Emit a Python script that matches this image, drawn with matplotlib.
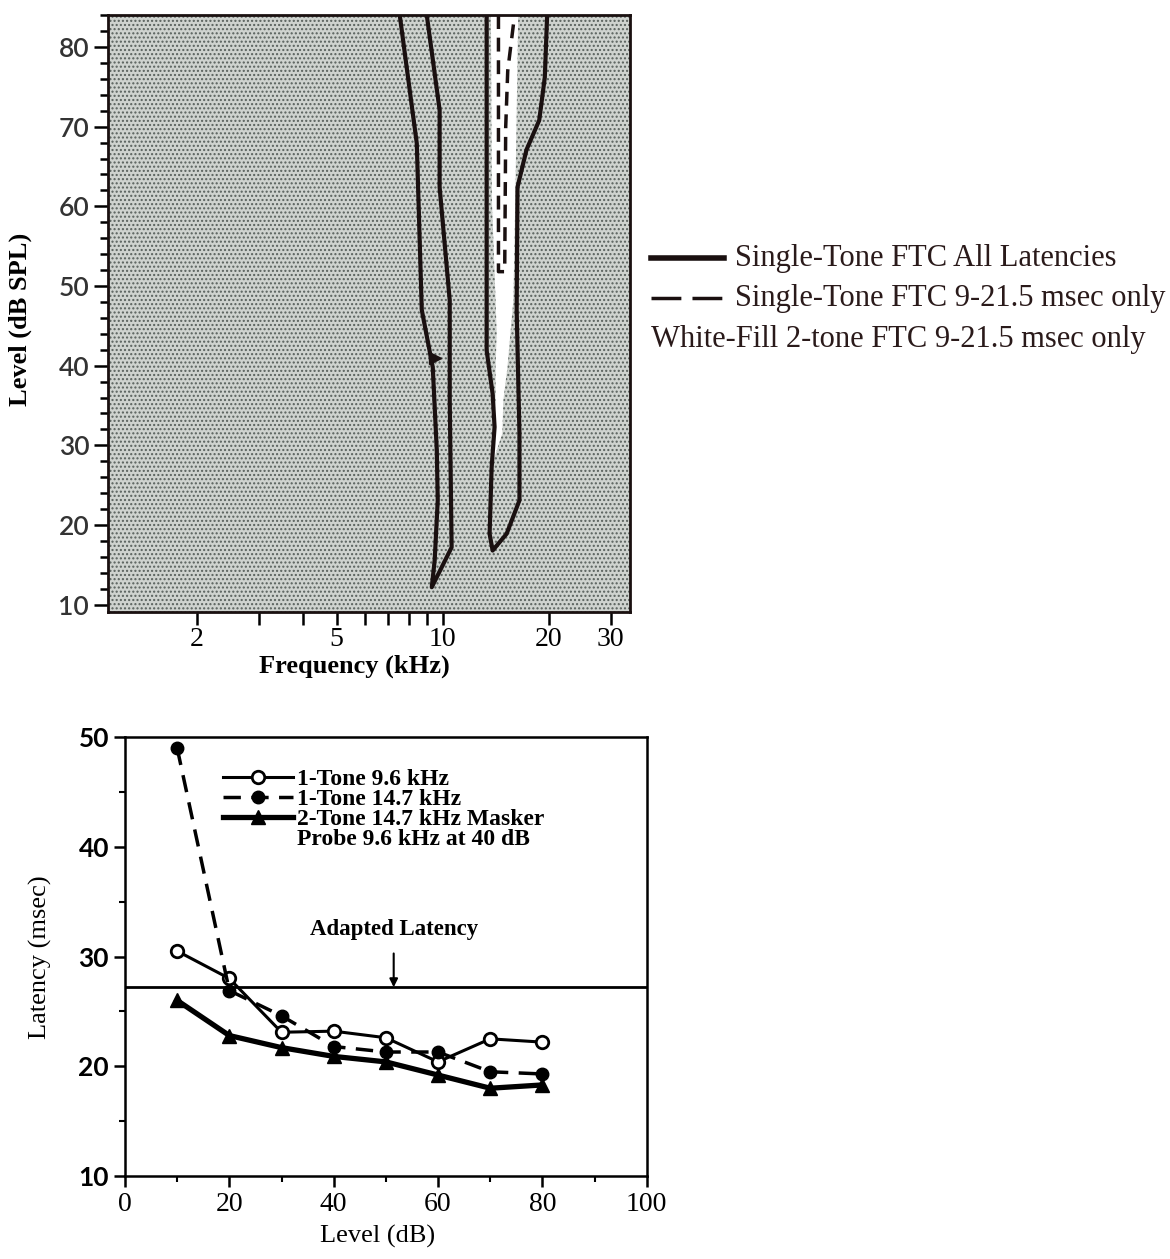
import matplotlib as mpl
mpl.rcParams['figure.dpi'] = 100

import numpy as np
import matplotlib.pyplot as plt
from matplotlib.patches import Rectangle
from matplotlib.lines import Line2D

SERIF = 'Liberation Serif'
SANS = 'Lato'

# --- top panel: frequency tuning curves (kHz, dB SPL) ---
ftc1_f = [7.55, 8.44, 8.72, 9.37, 9.62, 9.68, 9.49, 9.31, 10.6, 10.47, 10.47, 9.80, 9.80, 9.01]
ftc1_L = [84, 67.9, 47.0, 39.8, 29.4, 23.1, 15.6, 12.2, 17.2, 35.7, 48.2, 62.4, 72.1, 84]

ftc2_f = [13.33, 13.33, 13.33, 13.86, 14.04, 13.77, 13.59, 13.86, 15.19, 16.52, 16.52,
          16.22, 16.31, 17.3, 18.8, 19.5, 19.8]
ftc2_L = [84, 48.2, 41.9, 36.5, 32.3, 27.2, 18.9, 16.8, 18.9, 23.1, 31.5,
          47.0, 62.4, 67.1, 70.8, 76.2, 84]

dash_f = [14.4, 14.4, 15.0, 15.1, 15.3, 16.0]
dash_L = [84, 51.8, 51.8, 70, 77, 84]

white_f = [13.77, 13.86, 14.2, 14.3, 14.2, 14.2, 14.0, 13.77,
           14.7, 14.8, 15.2, 15.5, 15.8, 16.0, 16.31]
white_L = [84, 60.8, 48.2, 44.1, 39.8, 35.7, 31.5, 27.7,
           31.5, 35.7, 39.8, 44.1, 48.2, 60.8, 84]

probe_f, probe_L = 9.5, 41

# --- bottom panel: latency vs level ---
level = [10, 20, 30, 40, 50, 60, 70, 80]
lat_96 = [30.5, 28.0, 23.1, 23.2, 22.6, 20.4, 22.5, 22.2]
lat_147 = [49.0, 26.9, 24.6, 21.8, 21.3, 21.3, 19.5, 19.3]
lat_2tone = [26.0, 22.8, 21.7, 20.9, 20.4, 19.2, 18.0, 18.3]
adapted = 27.2

fig = plt.figure(figsize=(11.7, 12.59))

# ---------------- top panel ----------------
ax = fig.add_axes([0.0923, 0.514, 0.446, 0.474])
ax.set_xscale('log')
ax.set_xlim(1.12, 34)
ax.set_ylim(9.1, 84)
ax.set_facecolor('#cfd3cf')
ax.add_patch(Rectangle((0, 0), 1, 1, transform=ax.transAxes, facecolor='none',
                       edgecolor='#58605c', hatch='....', lw=0, zorder=0.5))
ax.fill(white_f, white_L, color='white', zorder=1)
ax.plot(ftc1_f, ftc1_L, color='#1a1010', lw=3, zorder=3)
ax.plot(ftc2_f, ftc2_L, color='#1a1010', lw=3, zorder=3)
ax.plot(dash_f, dash_L, color='#1a1010', lw=2.5, ls=(0, (4, 2.5)), zorder=3)
ax.plot([probe_f], [probe_L], marker='>', color='#1a1010', ms=8, zorder=4)

ax.set_xticks([2, 5, 10, 20, 30])
ax.set_xticklabels(['2', '5', '10', '20', '30'], fontfamily=SERIF, fontsize=20)
ax.set_xticks([3, 4, 6, 7, 8, 9], minor=True)
ax.xaxis.set_minor_formatter(plt.NullFormatter())
ax.set_yticks(np.arange(10, 81, 10))
ax.set_yticklabels([str(v) for v in range(10, 81, 10)], fontfamily=SANS,
                   fontweight='semibold', fontsize=19, color='#333')
ax.set_yticks(np.arange(10, 85, 2), minor=True)
ax.tick_params(axis='both', which='both', direction='out', width=1.8)
ax.tick_params(axis='x', which='both', length=9, pad=2)
ax.tick_params(axis='y', which='major', length=10)
ax.tick_params(axis='y', which='minor', length=6)
for s in ax.spines.values():
    s.set_linewidth(2)
    s.set_color('#1a1010')
    s.set_zorder(5)

fig.text(0.017, 0.746, 'Level (dB SPL)', rotation=90, ha='center', va='center',
         fontfamily=SERIF, fontsize=19, fontweight='bold')
fig.text(0.303, 0.471, 'Frequency (kHz)', ha='center', va='center',
         fontfamily=SERIF, fontsize=19, fontweight='bold')

# legend for top panel, drawn outside the axes
fig.add_artist(Line2D([0.556, 0.619], [0.795, 0.795], color='#1a1010', lw=4))
fig.add_artist(Line2D([0.556, 0.617], [0.763, 0.763], color='#1a1010', lw=2.5,
                      ls=(0, (8.6, 3.2))))
fig.text(0.628, 0.795, 'Single-Tone FTC All Latencies', ha='left', va='center',
         fontfamily=SERIF, fontsize=22, color='#2a1a1a')
fig.text(0.628, 0.763, 'Single-Tone FTC 9-21.5 msec only', ha='left', va='center',
         fontfamily=SERIF, fontsize=22, color='#2a1a1a')
fig.text(0.556, 0.730, 'White-Fill 2-tone FTC 9-21.5 msec only', ha='left', va='center',
         fontfamily=SERIF, fontsize=22, color='#2a1a1a')

# ---------------- bottom panel ----------------
bx = fig.add_axes([0.1068, 0.0659, 0.446, 0.3487])
bx.set_xlim(0, 100)
bx.set_ylim(10, 50)
bx.axhline(adapted, color='black', lw=2, zorder=1)
h1, = bx.plot(level, lat_96, color='black', lw=2.2, marker='o', ms=9,
              mfc='white', mec='black', mew=2, label='1-Tone 9.6 kHz', zorder=3)
h2, = bx.plot(level, lat_147, color='black', lw=2.5, ls=(0, (5, 3)), marker='o', ms=9,
              mfc='black', mec='black', label='1-Tone 14.7 kHz', zorder=3)
h3, = bx.plot(level, lat_2tone, color='black', lw=3.8, marker='^', ms=10,
              mfc='black', mec='black', label='2-Tone 14.7 kHz Masker', zorder=3)
h4 = Line2D([], [], color='none')
bx.legend([h1, h2, h3, h4],
          ['1-Tone 9.6 kHz', '1-Tone 14.7 kHz', '2-Tone 14.7 kHz Masker',
           'Probe 9.6 kHz at 40 dB'],
          loc='upper left', bbox_to_anchor=(0.166, 0.955), frameon=False,
          handlelength=2.95, handletextpad=0.15, labelspacing=-0.06, borderpad=0,
          prop={'family': SERIF, 'weight': 'bold', 'size': 17})

bx.annotate('Adapted Latency', xy=(51.5, adapted), xytext=(51.5, 32.5),
            ha='center', va='center', fontfamily=SERIF, fontweight='bold', fontsize=16.5,
            arrowprops=dict(arrowstyle='-|>', color='black', lw=1.5,
                            shrinkA=8, shrinkB=0, mutation_scale=12))

bx.set_xticks(np.arange(0, 101, 20))
bx.set_xticklabels([str(v) for v in range(0, 101, 20)], fontfamily=SERIF, fontsize=20)
bx.set_xticks(np.arange(10, 100, 20), minor=True)
bx.set_yticks(np.arange(10, 51, 10))
bx.set_yticklabels([str(v) for v in range(10, 51, 10)], fontfamily=SANS,
                   fontweight='bold', fontsize=19)
bx.set_yticks(np.arange(15, 50, 10), minor=True)
bx.tick_params(axis='both', which='major', direction='out', length=8, width=1.8)
bx.tick_params(axis='both', which='minor', direction='out', length=4, width=1.5)
for s in bx.spines.values():
    s.set_linewidth(1.8)

fig.text(0.035, 0.24, 'Latency (msec)', rotation=90, ha='center', va='center',
         fontfamily=SERIF, fontsize=19)
fig.text(0.323, 0.018, 'Level (dB)', ha='center', va='center',
         fontfamily=SERIF, fontsize=19)

plt.savefig('out.png')
